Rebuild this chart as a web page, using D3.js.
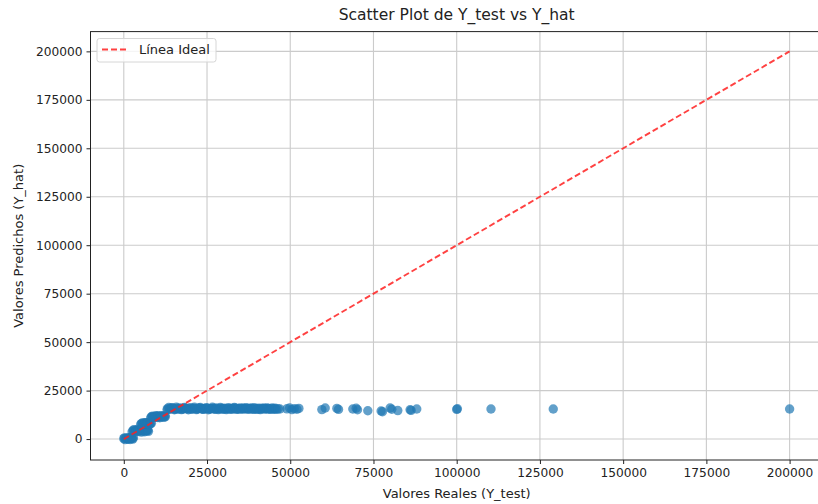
<!DOCTYPE html>
<html>
<head>
<meta charset="utf-8">
<script src="https://cdn.jsdelivr.net/npm/d3@7"></script>
<style>
  body { margin: 0; background: #fff; }
  svg { display: block; font-family: "DejaVu Sans", sans-serif; }
</style>
</head>
<body>
<svg id="chart" width="818" height="504"></svg>
<script>
'use strict';

// valores reales (eje x)
var yTest = [
    0, 400, 700, 1100, 1500, 1900, 2300, 2700, 2900,
    200, 900, 1300, 1700, 2100, 2500,
    2500, 3000, 3500, 4000, 4500, 5000, 5500, 6000, 6500, 7000, 7400,
    2800, 3300, 3800, 4300, 4800, 5300, 5800, 6300, 6800, 7200,
    5100, 5600, 6100, 6600, 7100, 7500, 8000,
    5300, 5800, 6300, 6800, 7300, 7800, 8300,
    8100, 8600, 9100, 9600, 10100, 10600, 11100, 11600, 12100, 12500,
    8300, 8800, 9300, 9800, 10300, 10800, 11300, 11800, 12300,
    13000, 13500, 14100, 14700, 15200, 15800, 16400, 17000, 17600, 18200,
    18800, 19400, 20000, 20600, 21200, 21800, 22400, 23000, 23600, 24200,
    24800, 25400, 26000, 26600, 27200, 27800, 28400, 29000, 29600, 30200,
    30800, 31400, 32000, 32600, 33200, 33800, 34400, 35000, 35600, 36200,
    36800, 37400, 38000, 38600, 39200, 39800, 40400, 41000, 41600, 42200,
    42800, 43400, 44000, 44600, 45200, 45800,
    13200, 13800, 14400, 15000, 15500, 16100, 16700, 17300, 17900, 18500,
    19100, 19700, 20300, 20900, 21500, 22100, 22700, 23300, 23900, 24500,
    25100, 25700, 26300, 26900, 27500, 28100, 28700, 29300, 29900, 30500,
    31100, 31700, 32300, 32900, 33500, 34100, 34700, 35300, 35900, 36500,
    37100, 37700, 38300, 38900, 39500, 40100, 40700, 41300, 41900, 42500,
    43100, 43700, 44300, 44900, 45500, 46300, 46900,
    49000, 49800, 50500, 51200, 52000, 52600,
    59500, 60500, 64000, 64500, 68800, 69800, 70200, 73300,
    77300, 77700, 80000, 80500, 82300, 86000, 86300, 88000,
    100000, 100200, 110300, 129000, 200000
];

// valores predichos (eje y)
var yHat = [
    200, -300, 600, 100, 700, -200, 400, 0, 700,
    600, 300, -100, 500, 800, 300,
    3800, 4800, 4200, 5000, 3900, 4600, 4100, 4900, 4300, 4700, 4000,
    4400, 3700, 4600, 4300, 4800, 3600, 4500, 3800, 4200, 4500,
    7600, 8300, 7800, 8400, 7700, 8200, 7900,
    8000, 7500, 8500, 8000, 8500, 7500, 8200,
    11000, 11800, 11200, 12000, 11100, 11700, 11300, 11900, 11200, 11600,
    11500, 11300, 11600, 11400, 12100, 11000, 12000, 11500, 11900,
    15200, 16300, 15600, 16000, 15100, 16400, 15500, 16100, 15300, 16300,
    15700, 15100, 16200, 15600, 16400, 15200, 15900, 16300, 15400, 15800,
    16200, 15100, 15700, 16400, 15500, 16000, 15200, 16300, 15600, 15900,
    15200, 16200, 15500, 15900, 16300, 15300, 15800, 16100, 15400, 15700,
    16200, 15300, 15800, 15500, 16200, 15400, 15900, 15200, 15700, 16100,
    15400, 15800, 15300, 16000, 15600, 15300,
    15700, 15400, 16200, 15600, 15300, 15900, 15600, 15200, 15800, 16000,
    15500, 15800, 15300, 15900, 15700, 15400, 16000, 15700, 15300, 15600,
    15900, 15400, 15600, 15900, 15300, 15700, 15500, 15900, 15300, 15700,
    15500, 15800, 15300, 15600, 16000, 15500, 15400, 15700, 16000, 15500,
    15800, 15600, 16100, 15300, 15700, 15600, 15400, 15900, 15500, 15700,
    16000, 15500, 15700, 15400, 15900, 15600, 15500,
    15600, 16000, 15200, 15700, 15400, 15800,
    15200, 16000, 15800, 15300, 15500, 15900, 15100, 14600,
    14500, 14100, 16000, 15400, 14700, 15100, 14800, 15500,
    15300, 15600, 15500, 15500, 15500
];

var ticks = [0, 25000, 50000, 75000, 100000, 125000, 150000, 175000, 200000];
var idealLine = [0, 200000];

var TITLE = 'Scatter Plot de Y_test vs Y_hat';
var XLABEL = 'Valores Reales (Y_test)';
var YLABEL = 'Valores Predichos (Y_hat)';
var LEGEND = 'Línea Ideal';

drawChart();

function drawChart() {
    var svg = d3.select('#chart');
    var left = 90.5, right = 822.9, top = 31.6, bottom = 460;

    var x = d3.scaleLinear().domain([-10000, 210000]).range([left, right]);
    var y = d3.scaleLinear().domain([-10800, 210200]).range([bottom, top]);

    // grid
    var grid = svg.append('g').attr('stroke', '#cbcbcb').attr('stroke-width', 1.1);
    ticks.forEach(function(t) {
        grid.append('line')
            .attr('x1', x(t)).attr('x2', x(t))
            .attr('y1', top).attr('y2', bottom);
        grid.append('line')
            .attr('x1', left).attr('x2', right)
            .attr('y1', y(t)).attr('y2', y(t));
    });

    // puntos
    svg.append('g').selectAll('circle')
        .data(yTest)
        .enter().append('circle')
        .attr('cx', function(d) { return x(d); })
        .attr('cy', function(d, i) { return y(yHat[i]); })
        .attr('r', 4.7)
        .attr('fill', '#1f77b4')
        .attr('fill-opacity', 0.7);

    // linea ideal
    svg.append('line')
        .attr('x1', x(idealLine[0])).attr('y1', y(idealLine[0]))
        .attr('x2', x(idealLine[1])).attr('y2', y(idealLine[1]))
        .attr('stroke', '#ff2020')
        .attr('stroke-opacity', 0.85)
        .attr('stroke-width', 1.9)
        .attr('stroke-dasharray', '6,3');

    // ejes
    var xAxis = d3.axisBottom(x).tickValues(ticks).tickSize(4).tickPadding(4).tickFormat(d3.format('d'));
    var yAxis = d3.axisLeft(y).tickValues(ticks).tickSize(4).tickPadding(4).tickFormat(d3.format('d'));

    svg.append('g').attr('transform', 'translate(0,' + bottom + ')').call(xAxis);
    svg.append('g').attr('transform', 'translate(' + left + ',0)').call(yAxis);
    svg.selectAll('.domain').remove();
    svg.selectAll('.tick text').attr('font-size', 12.2).attr('fill', '#222')
        .attr('font-family', '"DejaVu Sans", sans-serif');
    svg.selectAll('.tick line').attr('stroke', '#222');

    svg.append('rect')
        .attr('x', left).attr('y', top)
        .attr('width', right - left).attr('height', bottom - top)
        .attr('fill', 'none').attr('stroke', '#222').attr('stroke-width', 1);

    // textos
    svg.append('text')
        .attr('x', (left + right) / 2).attr('y', 20)
        .attr('text-anchor', 'middle')
        .style('font-size', '15.5px').attr('fill', '#222')
        .text(TITLE);

    svg.append('text')
        .attr('x', (left + right) / 2).attr('y', 498)
        .attr('text-anchor', 'middle')
        .style('font-size', '13px').attr('fill', '#222')
        .text(XLABEL);

    svg.append('text')
        .attr('transform', 'translate(22.5,' + (top + bottom) / 2 + ') rotate(-90)')
        .attr('text-anchor', 'middle')
        .style('font-size', '13px').attr('fill', '#222')
        .text(YLABEL);

    // leyenda
    var lg = svg.append('g');
    lg.append('rect')
        .attr('x', 97).attr('y', 38.5)
        .attr('width', 119).attr('height', 23.5)
        .attr('rx', 2.5)
        .attr('fill', '#fff').attr('fill-opacity', 0.8)
        .attr('stroke', '#d6d6d6');
    lg.append('line')
        .attr('x1', 102).attr('x2', 128)
        .attr('y1', 49.5).attr('y2', 49.5)
        .attr('stroke', '#ff2020').attr('stroke-opacity', 0.85)
        .attr('stroke-width', 1.9).attr('stroke-dasharray', '6,3');
    lg.append('text')
        .attr('x', 139).attr('y', 54)
        .style('font-size', '13px').attr('fill', '#222')
        .text(LEGEND);
}
</script>
</body>
</html>
